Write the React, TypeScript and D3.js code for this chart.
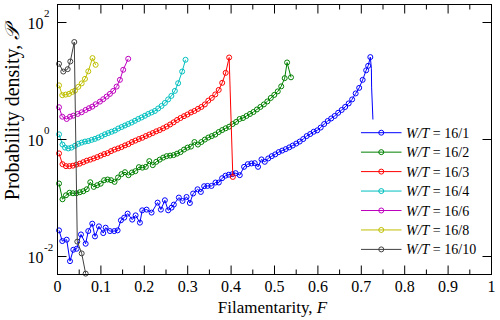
import React from 'react';
import * as d3 from 'd3';

// Each series: [F, log10(P)]
const wt16_1: [number, number][] = [
  [0.0035,-1.561],[0.011,-1.744],[0.0212,-1.720],[0.0288,-2.087],[0.0364,-1.892],[0.0442,-1.875],[0.0541,-1.630],[0.0649,-1.789],[0.0709,-1.573],[0.0801,-1.446],[0.0863,-1.664],[0.0955,-1.492],[0.1054,-1.607],[0.1109,-1.515],[0.1208,-1.573],[0.1307,-1.573],[0.1385,-1.561],[0.1461,-1.389],[0.1537,-1.343],[0.1616,-1.274],[0.1721,-1.377],[0.18,-1.304],[0.1899,-1.429],[0.1952,-1.218],[0.2053,-1.206],[0.2168,-1.257],[0.2306,-1.086],[0.2382,-1.206],[0.2474,-1.046],[0.255,-1.218],[0.2628,-1.172],[0.2681,-1.120],[0.2796,-1.0],[0.2881,-1.058],[0.2974,-0.990],[0.305,-1.093],[0.3125,-0.931],[0.3227,-0.858],[0.3303,-0.904],[0.3379,-0.806],[0.3457,-0.801],[0.3549,-0.801],[0.3641,-0.743],[0.3717,-0.743],[0.3793,-0.669],[0.3871,-0.626],[0.3947,-0.609],[0.4028,-0.600],[0.4104,-0.583],[0.42,-0.617],[0.4299,-0.475],[0.4384,-0.429],[0.447,-0.417],[0.4545,-0.412],[0.4621,-0.475],[0.47,-0.348],[0.4776,-0.389],[0.4856,-0.331],[0.4937,-0.292],[0.5017,-0.262],[0.5098,-0.223],[0.5178,-0.197],[0.5259,-0.172],[0.534,-0.142],[0.542,-0.111],[0.5501,-0.077],[0.5581,-0.043],[0.5662,0.000],[0.5742,0.051],[0.5823,0.086],[0.5903,0.125],[0.5984,0.149],[0.6064,0.197],[0.6145,0.257],[0.6226,0.309],[0.6306,0.352],[0.6387,0.395],[0.6467,0.449],[0.6548,0.497],[0.6628,0.549],[0.6709,0.609],[0.6789,0.678],[0.687,0.780],[0.6951,0.875],[0.7031,1.012],[0.7112,1.175],[0.7158,1.252],[0.7208,1.401],
];
// unmarked tail of the 16/1 curve
const wt16_1Tail: [number, number][] = [[0.7208,1.401],[0.7232,1.209],[0.7238,0.875],[0.7268,0.334]];

const wt16_2: [number, number][] = [
  [0.0035,-0.760],[0.0115,-1.029],[0.0195,-0.961],[0.0275,-0.918],[0.0355,-0.926],[0.0435,-0.926],[0.0515,-0.909],[0.0595,-0.892],[0.0675,-0.858],[0.0755,-0.738],[0.0835,-0.818],[0.0915,-0.789],[0.0995,-0.763],[0.1075,-0.703],[0.1155,-0.691],[0.1235,-0.703],[0.1315,-0.732],[0.1395,-0.657],[0.1475,-0.600],[0.1555,-0.566],[0.1635,-0.617],[0.1715,-0.571],[0.1795,-0.549],[0.1875,-0.480],[0.1955,-0.489],[0.2035,-0.475],[0.2115,-0.377],[0.2195,-0.446],[0.2275,-0.389],[0.2355,-0.352],[0.2435,-0.317],[0.2515,-0.292],[0.2595,-0.283],[0.2675,-0.274],[0.2755,-0.249],[0.2835,-0.223],[0.2915,-0.180],[0.2995,-0.146],[0.3075,-0.129],[0.3155,-0.051],[0.3235,-0.094],[0.3315,-0.051],[0.3395,-0.009],[0.3475,0.026],[0.3555,0.051],[0.3635,0.077],[0.3715,0.120],[0.3795,0.154],[0.3875,0.184],[0.3955,0.211],[0.4035,0.257],[0.4115,0.292],[0.4195,0.343],[0.4275,0.360],[0.4355,0.395],[0.4435,0.429],[0.4515,0.463],[0.4595,0.506],[0.4675,0.549],[0.4755,0.592],[0.4835,0.643],[0.4915,0.703],[0.4995,0.755],[0.5075,0.815],[0.5155,0.901],[0.5235,1.041],[0.5290,1.309],[0.5380,1.055],
];

const wt16_3: [number, number][] = [
  [0.0035,-0.245],[0.0115,-0.429],[0.0195,-0.463],[0.0275,-0.463],[0.0355,-0.455],[0.0435,-0.437],[0.0515,-0.420],[0.0595,-0.395],[0.0675,-0.369],[0.0755,-0.352],[0.0835,-0.331],[0.0915,-0.309],[0.0995,-0.283],[0.1075,-0.257],[0.1155,-0.240],[0.1235,-0.206],[0.1315,-0.180],[0.1395,-0.160],[0.1475,-0.137],[0.1555,-0.108],[0.1635,-0.086],[0.1715,-0.051],[0.1795,-0.026],[0.1875,0.000],[0.1955,0.022],[0.2035,0.051],[0.2115,0.077],[0.2195,0.103],[0.2275,0.132],[0.2355,0.154],[0.2435,0.184],[0.2515,0.214],[0.2595,0.249],[0.2675,0.286],[0.2755,0.326],[0.2835,0.360],[0.2915,0.391],[0.2995,0.420],[0.3075,0.455],[0.3155,0.480],[0.3235,0.515],[0.3315,0.549],[0.3395,0.592],[0.3475,0.657],[0.3555,0.703],[0.3635,0.763],[0.3715,0.840],[0.3795,0.961],[0.3875,1.132],[0.3955,1.394],[0.4040,-0.647],
];

const wt16_4F = [0.0035,0.0115,0.0173,0.0249,0.0322,0.0403,0.0479,0.0557,0.0633,0.0709,0.0787,0.0863,0.0939,0.1017,0.1093,0.1169,0.1247,0.1323,0.1399,0.1478,0.1553,0.1629,0.1708,0.1784,0.186,0.1938,0.2014,0.209,0.2168,0.2244,0.232,0.2398,0.2474,0.255,0.2624,0.2704,0.278,0.2872,0.295];
const wt16_4LogP = [0.081,-0.094,-0.146,-0.160,-0.146,-0.115,-0.082,-0.060,-0.043,-0.034,-0.014,0.003,0.026,0.051,0.081,0.103,0.125,0.146,0.180,0.206,0.232,0.257,0.283,0.312,0.343,0.369,0.398,0.429,0.455,0.480,0.523,0.566,0.617,0.678,0.738,0.823,0.955,1.154,1.355];

const wt16_6: [number, number][] = [
  [0.0035,0.544],[0.011,0.382],[0.0212,0.343],[0.0288,0.382],[0.0364,0.400],[0.0465,0.429],[0.0557,0.458],[0.0649,0.497],[0.0725,0.527],[0.0801,0.554],[0.0879,0.595],[0.0978,0.640],[0.1054,0.681],[0.1132,0.726],[0.1208,0.772],[0.1284,0.823],[0.1362,0.897],[0.1438,1.012],[0.1514,1.184],[0.1629,1.372],
];

const wt16_8: [number, number][] = [
  [0.0035,0.918],[0.011,0.750],[0.0189,0.760],[0.0265,0.772],[0.0341,0.806],[0.0403,0.828],[0.0479,0.892],[0.0557,0.952],[0.0633,1.029],[0.0709,1.158],[0.0806,1.384],[0.0879,1.269],
];

const wt16_10: [number, number][] = [
  [0.0035,1.286],[0.0133,1.154],[0.0235,1.195],[0.0295,1.326],[0.0387,1.659],[0.0456,-1.753],[0.0557,-1.954],[0.0649,-2.30],
];

const seriesLabels = ['16/1', '16/2', '16/3', '16/4', '16/6', '16/8', '16/10'];
const seriesColors = ['#0000ff', '#008000', '#ff0000', '#00bfbf', '#bf00bf', '#bfbf00', '#404040'];

const xTicks = [0, 0.1, 0.2, 0.3, 0.4, 0.5, 0.6, 0.7, 0.8, 0.9, 1];
const xTickLabels = ['0', '0.1', '0.2', '0.3', '0.4', '0.5', '0.6', '0.7', '0.8', '0.9', '1'];
const xMinorTicks = [0.05, 0.15, 0.25, 0.35, 0.45, 0.55, 0.65, 0.75, 0.85, 0.95];
const yTickExps = [-2, 0, 2];

const FONT = '"Liberation Serif", "Times New Roman", serif';

export default function App() {
  const L = 57.5, R = 491.5, T = 4.5, B = 274.5;
  const x = d3.scaleLinear().domain([0, 1]).range([L, R]);
  const y = d3.scaleLog().domain([Math.pow(10, -2.315), Math.pow(10, 2.3)]).range([B, T]);

  const series = [
    wt16_1, wt16_2, wt16_3,
    wt16_4F.map((f, i) => [f, wt16_4LogP[i]] as [number, number]),
    wt16_6, wt16_8, wt16_10,
  ];

  const line = d3.line<[number, number]>()
    .x(d => x(d[0]))
    .y(d => y(Math.pow(10, d[1])));

  const legX0 = 361, legX1 = 401.5, legTextX = 406, legY0 = 132.7, legDy = 19.45;

  return (
    <svg width={500} height={320} style={{ position: 'absolute', left: 0, top: 0, background: '#fff' }} fontFamily={FONT}>
      <rect x={0} y={0} width={500} height={320} fill="#fff" />
      {series.map((s, i) => (
        <g key={i}>
          <path d={line(s) || ''} fill="none" stroke={seriesColors[i]} strokeWidth={1} />
          {i === 0 && <path d={line(wt16_1Tail) || ''} fill="none" stroke={seriesColors[0]} strokeWidth={1} />}
          {s.map((d, j) => (
            <circle key={j} cx={x(d[0])} cy={y(Math.pow(10, d[1]))} r={2.5} fill="none" stroke={seriesColors[i]} strokeWidth={1} />
          ))}
        </g>
      ))}
      {/* frame */}
      <rect x={L} y={T} width={R - L} height={B - T} fill="none" stroke="#000" strokeWidth={1} />
      {/* x ticks */}
      {xTicks.map((t, i) => (
        <g key={'xt' + i}>
          <line x1={x(t)} x2={x(t)} y1={B} y2={B - 9} stroke="#000" />
          <line x1={x(t)} x2={x(t)} y1={T} y2={T + 9} stroke="#000" />
          <text x={x(t)} y={292} fontSize={16} textAnchor="middle">{xTickLabels[i]}</text>
        </g>
      ))}
      {xMinorTicks.map((t, i) => (
        <g key={'xm' + i}>
          <line x1={x(t)} x2={x(t)} y1={B} y2={B - 5} stroke="#000" />
          <line x1={x(t)} x2={x(t)} y1={T} y2={T + 5} stroke="#000" />
        </g>
      ))}
      {/* y ticks */}
      {yTickExps.map((e, i) => {
        const yy = Math.round(y(Math.pow(10, e))) + 0.5;
        return (
          <g key={'yt' + i}>
            <line x1={L} x2={L + 9} y1={yy} y2={yy} stroke="#000" />
            <line x1={R} x2={R - 9} y1={yy} y2={yy} stroke="#000" />
            <text x={43.5} y={yy + 6} fontSize={16} textAnchor="end">10</text>
            <text x={44} y={yy - 5.5} fontSize={11} textAnchor="start">{String(e)}</text>
          </g>
        );
      })}
      {/* axis titles */}
      <text x={272.5} y={313} fontSize={17} textAnchor="middle">
        Filamentarity, <tspan fontStyle="italic">F</tspan>
      </text>
      <text transform="translate(19,113) rotate(-90)" fontSize={20} textAnchor="middle">
        Probability density, <tspan fontStyle="italic">𝒫</tspan>
      </text>
      {/* legend */}
      {seriesLabels.map((lab, i) => {
        const ly = legY0 + i * legDy;
        return (
          <g key={'lg' + i}>
            <line x1={legX0} x2={legX1} y1={ly} y2={ly} stroke={seriesColors[i]} strokeWidth={1} />
            <circle cx={(legX0 + legX1) / 2} cy={ly} r={2.5} fill="none" stroke={seriesColors[i]} strokeWidth={1} />
            <text x={legTextX} y={ly + 5} fontSize={14}>
              <tspan fontStyle="italic">W</tspan><tspan fontStyle="italic">/</tspan><tspan fontStyle="italic">T</tspan> = {lab}
            </text>
          </g>
        );
      })}
    </svg>
  );
}
